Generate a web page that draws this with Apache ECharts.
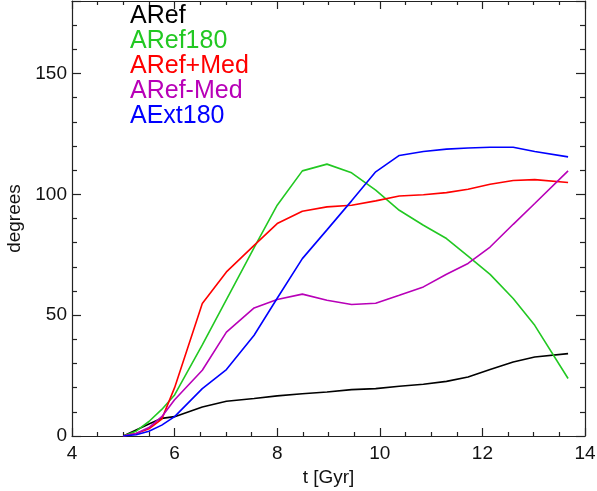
<!DOCTYPE html>
<html>
<head>
<meta charset="utf-8">
<script src="https://cdn.jsdelivr.net/npm/echarts@6/dist/echarts.min.js"></script>
<style>
html,body{margin:0;padding:0;background:#fff;}
#chart{width:597px;height:491px;}
</style>
</head>
<body>
<div id="chart"></div>
<script>
const tGyr = [5.0, 5.25, 5.5, 5.75, 6.0, 6.54, 7.01, 7.55, 8.0, 8.49, 8.97, 9.45, 9.92, 10.38, 10.85, 11.30, 11.72, 12.15, 12.6, 13.02, 13.67];
const aRef      = [0, 2.5, 5, 7.3, 8.0, 12.0, 14.4, 15.5, 16.6, 17.5, 18.2, 19.2, 19.6, 20.6, 21.4, 22.6, 24.4, 27.5, 30.6, 32.7, 34.1];
const aRef180   = [0, 2, 6, 11, 17, 37.7, 56.4, 77.9, 95.5, 109.7, 112.5, 108.9, 101.7, 93.4, 87.2, 81.7, 74.4, 66.9, 56.9, 45.8, 23.8];
const aRefPlus  = [0, 1, 3, 7, 20, 54.8, 67.9, 78.9, 87.9, 93.0, 94.8, 95.5, 97.3, 99.3, 99.8, 100.7, 102.1, 104.2, 105.7, 106.1, 104.9];
const aRefMinus = [0, 1, 3.5, 8, 15, 27.2, 43, 53, 56.5, 58.7, 56.2, 54.4, 54.9, 58.2, 61.7, 66.9, 71.4, 78.2, 87.6, 96.2, 109.7];
const aExt180   = [0, 0.5, 2, 4.5, 8, 19.6, 27.5, 41.7, 57, 73.4, 85.3, 97.3, 109.3, 116.1, 117.7, 118.7, 119.2, 119.5, 119.5, 117.7, 115.5];

const seriesNames = ['ARef', 'ARef180', 'ARef+Med', 'ARef-Med', 'AExt180'];
const seriesValues = [aRef, aRef180, aRefPlus, aRefMinus, aExt180];
const seriesColors = ['#000000', '#22c822', '#ff0000', '#b800b8', '#0000ff'];

const FONT = '"Liberation Sans", Arial, sans-serif';

function pairs(vals) { return tGyr.map((t, i) => [t, vals[i]]); }

const axisCommon = {
  axisLine: { show: true, onZero: false, lineStyle: { color: '#222', width: 1.2 } },
  splitLine: { show: false },
  minorSplitLine: { show: false }
};

const chart = echarts.init(document.getElementById('chart'), null, { renderer: 'canvas' });
chart.setOption({
  animation: false,
  backgroundColor: '#ffffff',
  grid: { left: 72, right: 12, top: 1, bottom: 55, outerBoundsMode: 'none', containLabel: false },
  legend: {
    left: 125, top: 4, orient: 'vertical', icon: 'none', itemWidth: 0, itemHeight: 10, itemGap: 0,
    padding: 0, selectedMode: false,
    textStyle: { fontFamily: FONT, fontSize: 25, lineHeight: 24.3 },
    data: seriesNames.map((n, i) => ({ name: n, textStyle: { color: seriesColors[i] } }))
  },
  xAxis: [
    Object.assign({}, axisCommon, {
      type: 'value', min: 4, max: 14, interval: 2, position: 'bottom',
      name: 't [Gyr]', nameLocation: 'middle', nameGap: 30,
      nameTextStyle: { fontFamily: FONT, fontSize: 19, color: '#111' },
      axisTick: { show: true, inside: true, length: 8, lineStyle: { color: '#222', width: 1.2 } },
      minorTick: { show: true, splitNumber: 4, length: 4, lineStyle: { color: '#222', width: 1.2 } },
      axisLabel: { fontFamily: FONT, fontSize: 19, color: '#111', margin: 8 }
    }),
    Object.assign({}, axisCommon, {
      type: 'value', min: 4, max: 14, interval: 2, position: 'top',
      axisTick: { show: true, inside: true, length: 8, lineStyle: { color: '#222', width: 1.2 } },
      minorTick: { show: true, splitNumber: 4, length: 4, lineStyle: { color: '#222', width: 1.2 } },
      axisLabel: { show: false }
    })
  ],
  yAxis: [
    Object.assign({}, axisCommon, {
      type: 'value', min: 0, max: 180, interval: 50, position: 'left',
      name: 'degrees', nameLocation: 'middle', nameGap: 46,
      nameTextStyle: { fontFamily: FONT, fontSize: 19, color: '#111' },
      axisTick: { show: true, inside: true, length: 9, lineStyle: { color: '#222', width: 1.2 } },
      minorTick: { show: true, splitNumber: 5, length: 5, lineStyle: { color: '#222', width: 1.2 } },
      axisLabel: { fontFamily: FONT, fontSize: 19, color: '#111', margin: 5, showMaxLabel: false }
    }),
    Object.assign({}, axisCommon, {
      type: 'value', min: 0, max: 180, interval: 50, position: 'right',
      axisTick: { show: true, inside: true, length: 9, lineStyle: { color: '#222', width: 1.2 } },
      minorTick: { show: true, splitNumber: 5, length: 5, lineStyle: { color: '#222', width: 1.2 } },
      axisLabel: { show: false }
    })
  ],
  series: seriesNames.map((n, i) => ({
    name: n, type: 'line', xAxisIndex: 0, yAxisIndex: 0,
    data: pairs(seriesValues[i]),
    showSymbol: false, symbol: 'none', smooth: false,
    color: seriesColors[i],
    lineStyle: { color: seriesColors[i], width: 1.6 },
    emphasis: { disabled: true }
  }))
});
</script>
</body>
</html>
